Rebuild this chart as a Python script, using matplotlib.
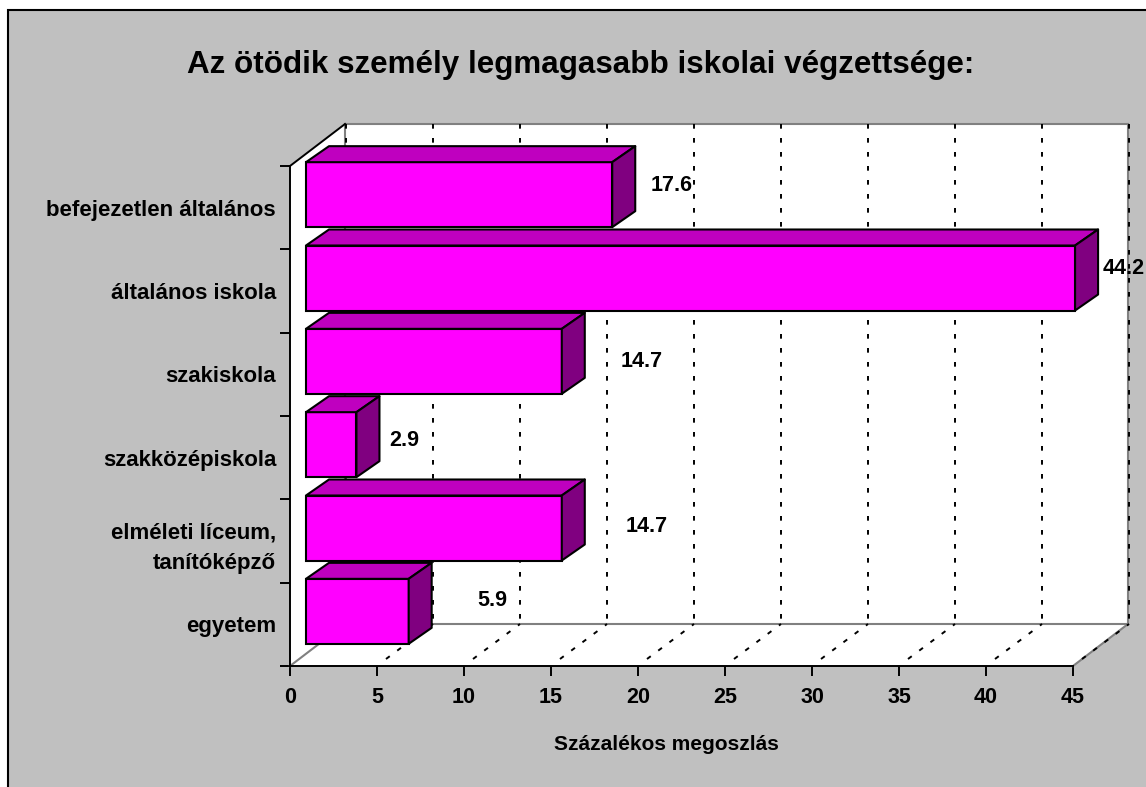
import matplotlib
matplotlib.use("Agg")
import matplotlib.pyplot as plt
from matplotlib.patches import Polygon, Rectangle

plt.rcParams['font.family'] = ['Liberation Sans', 'DejaVu Sans']
plt.rcParams['font.weight'] = 'bold'

categories = ["befejezetlen általános", "általános iskola", "szakiskola",
              "szakközépiskola", "elméleti líceum,\ntanítóképző", "egyetem"]
values = [17.6, 44.2, 14.7, 2.9, 14.7, 5.9]
xticks = [0, 5, 10, 15, 20, 25, 30, 35, 40, 45]
title = "Az ötödik személy legmagasabb iskolai végzettsége:"
xlabel = "Százalékos megoszlás"

# hand placed labels in the original, offset in pixels from the bar end
label_dx = [59, 49, 80, 48, 85, 84]
label_dy = [9, 10, 0, 4, 2, 11]

W, H = 1146, 787
GRAY = "#C0C0C0"
FRONT, TOP, SIDE = "#FF00FF", "#BF00BF", "#800080"

fig = plt.figure(figsize=(W / 100, H / 100), dpi=100, facecolor="white")
fig.add_artist(Rectangle((7.5 / W, -0.1), 1.2, 1.1 - 10 / H, transform=fig.transFigure,
                         facecolor=GRAY, edgecolor="black", linewidth=1.5, zorder=-1))

ax = fig.add_axes([290 / W, (H - 666) / H, 783 / W, 500 / H])
ax.set_xlim(0, 45)
ax.set_ylim(6, 0)
ax.patch.set_visible(False)
ax.spines["top"].set_visible(False)
ax.spines["right"].set_visible(False)
ax.spines["left"].set_linewidth(1.4)
ax.spines["bottom"].set_linewidth(1.4)
ax.spines["left"].set_zorder(6)
ax.spines["bottom"].set_zorder(6)

px_x = 783 / 45
px_y = 500 / 6


def ux(p):
    return p / px_x


def uy(p):
    return p / px_y


# walls and floor
wx, wy = ux(55), uy(42)
white = dict(facecolor="white", edgecolor="none", clip_on=False, zorder=1)
ax.add_patch(Polygon([(0, 0), (wx, -wy), (wx, 6 - wy), (0, 6)], **white))
ax.add_patch(Polygon([(wx, -wy), (45 + wx, -wy), (45 + wx, 6 - wy), (wx, 6 - wy)], **white))
ax.add_patch(Polygon([(0, 6), (wx, 6 - wy), (45 + wx, 6 - wy), (45, 6)], **white))

edge = dict(color="#808080", lw=1.5, clip_on=False, zorder=2)
ax.plot([wx, 45 + wx], [-wy, -wy], **edge)
ax.plot([wx, wx], [-wy, 6 - wy], **edge)
ax.plot([45 + wx, 45 + wx], [-wy, 6 - wy], **edge)
ax.plot([wx, 45 + wx], [6 - wy, 6 - wy], **edge)
ax.plot([0, wx], [6, 6 - wy], **edge)
ax.plot([45, 45 + wx], [6, 6 - wy], **edge)
ax.plot([0, wx], [0, -wy], color="black", lw=1.4, clip_on=False, zorder=3)

# gridlines on the back wall and floor
gx = ux(56)
dash = (0, (2.4, 4.8))
for t in xticks:
    ax.plot([t + gx, t + gx], [-wy, 6 - wy], color="black", lw=1.4, ls=dash,
            clip_on=False, zorder=3)
    if t > 0:
        ax.plot([t + ux(9), t + gx], [6 - uy(7), 6 - wy], color="black", lw=1.4, ls=dash,
                clip_on=False, zorder=3)

# bars
left = ux(16)
centers = [i + 0.5 - uy(13) for i in range(len(values))]
bar_h = uy(65)
dx, dy = ux(23), uy(16)
ax.barh(centers, values, height=bar_h, left=left, color=FRONT, edgecolor="black",
        linewidth=1.5, zorder=5, clip_on=False)
face = dict(edgecolor="black", linewidth=1.5, clip_on=False, zorder=5, joinstyle="round")
for c, v in zip(centers, values):
    t, b = c - bar_h / 2, c + bar_h / 2
    r = left + v
    ax.add_patch(Polygon([(left, t), (r, t), (r + dx, t - dy), (left + dx, t - dy)],
                         facecolor=TOP, **face))
    ax.add_patch(Polygon([(r, t), (r + dx, t - dy), (r + dx, b - dy), (r, b)],
                         facecolor=SIDE, **face))

for c, v, ox, oy in zip(centers, values, label_dx, label_dy):
    ax.annotate(f"{v:.1f}", xy=(left + v, c), xytext=(ox, oy), textcoords="offset pixels",
                ha="center", va="center", fontsize=15.5, fontweight="bold",
                annotation_clip=False, zorder=7)

# axes text
ax.set_xticks(xticks)
ax.set_yticks(range(7))
ax.set_yticklabels([])
ax.set_yticks([i + 0.5 for i in range(6)], minor=True)
ax.set_yticklabels(categories, minor=True, fontsize=16, fontweight="bold", ha="right",
                   multialignment="right", linespacing=1.6)
ax.tick_params(axis="y", which="minor", length=0, pad=10)
ax.tick_params(axis="y", which="major", length=7, width=1.4)
ax.tick_params(axis="x", length=7, width=1.4, labelsize=15.5, pad=8)
for lab in ax.get_xticklabels():
    lab.set_fontweight("bold")

fig.text(581 / W, 1 - 65 / H, title, ha="center", va="center", fontsize=22.6, fontweight="bold")
fig.text(666 / W, 1 - 744 / H, xlabel, ha="center", va="center", fontsize=15, fontweight="bold")

fig.savefig("out.png", dpi=100, facecolor=fig.get_facecolor())
